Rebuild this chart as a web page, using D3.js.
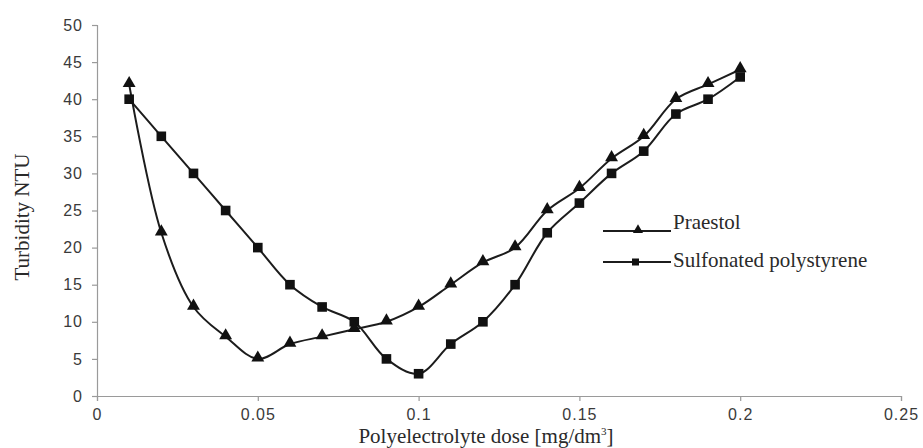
<!DOCTYPE html>
<html>
<head>
<meta charset="utf-8">
<script src="https://cdn.jsdelivr.net/npm/d3@7"></script>
<style>
  body { margin: 0; background: #fff; }
  #chart { width: 923px; height: 448px; }
</style>
</head>
<body>
<div id="chart"></div>
<script>
const doses = [0.01, 0.02, 0.03, 0.04, 0.05, 0.06, 0.07, 0.08, 0.09, 0.1,
  0.11, 0.12, 0.13, 0.14, 0.15, 0.16, 0.17, 0.18, 0.19, 0.2];
const praestol = [42, 22, 12, 8, 5, 7, 8, 9, 10, 12, 15, 18, 20, 25, 28, 32, 35, 40, 42, 44];
const sulfonated = [40, 35, 30, 25, 20, 15, 12, 10, 5, 3, 7, 10, 15, 22, 26, 30, 33, 38, 40, 43];
const xTicks = [0, 0.05, 0.1, 0.15, 0.2, 0.25];
const yTicks = [0, 5, 10, 15, 20, 25, 30, 35, 40, 45, 50];
const seriesNames = ["Praestol", "Sulfonated polystyrene"];

const width = 923, height = 448;
const margin = { top: 25, right: 22, bottom: 52, left: 97 };
const lineColor = "#1c1c1c";
const axisColor = "#9a9a9a";
const serif = "'Liberation Serif', 'Times New Roman', serif";

const svg = d3.select("#chart").append("svg")
  .attr("width", width)
  .attr("height", height);

const xScale = d3.scaleLinear()
  .domain([0, 0.25])
  .range([margin.left, width - margin.right]);

const yScale = d3.scaleLinear()
  .domain([0, 50])
  .range([height - margin.bottom, margin.top]);

// axes
const xAxis = d3.axisBottom(xScale)
  .tickValues(xTicks)
  .tickFormat((d) => String(d))
  .tickSize(5)
  .tickPadding(8);

const yAxis = d3.axisLeft(yScale)
  .tickValues(yTicks)
  .tickFormat((d) => String(d))
  .tickSize(5)
  .tickPadding(9);

const gx = svg.append("g")
  .attr("transform", "translate(0," + (height - margin.bottom) + ")")
  .call(xAxis);

const gy = svg.append("g")
  .attr("transform", "translate(" + margin.left + ",0)")
  .call(yAxis);

[gx, gy].forEach((g) => {
  g.select(".domain").attr("stroke", axisColor).attr("stroke-width", 1.2);
  g.selectAll(".tick line").attr("stroke", axisColor).attr("stroke-width", 1.2);
  g.selectAll(".tick text")
    .attr("fill", "#3a3a3a")
    .style("font-family", "'Liberation Sans', Arial, sans-serif")
    .style("font-size", "16px")
    .style("letter-spacing", "1px");
});

// axis titles
svg.append("text")
  .attr("transform", "rotate(-90)")
  .attr("x", -217)
  .attr("y", 29)
  .style("text-anchor", "middle")
  .style("font-family", serif)
  .style("font-size", "21px")
  .attr("fill", "#2a2a2a")
  .text("Turbidity NTU");

const xTitle = svg.append("text")
  .attr("x", 486)
  .attr("y", 443)
  .style("text-anchor", "middle")
  .style("font-family", serif)
  .style("font-size", "21px")
  .attr("fill", "#2a2a2a");
xTitle.append("tspan").text("Polyelectrolyte dose [mg/dm");
xTitle.append("tspan").attr("dy", -8).style("font-size", "11px").text("3");
xTitle.append("tspan").attr("dy", 8).text("]");

// lines
const line = d3.line()
  .x((d) => xScale(d[0]))
  .y((d) => yScale(d[1]))
  .curve(d3.curveCatmullRom.alpha(0.5));

const pData = doses.map((x, i) => [x, praestol[i]]);
const sData = doses.map((x, i) => [x, sulfonated[i]]);

[pData, sData].forEach((data) => {
  svg.append("path")
    .datum(data)
    .attr("fill", "none")
    .attr("stroke", lineColor)
    .attr("stroke-width", 2)
    .attr("d", line);
});

const triangle = d3.symbol().type(d3.symbolTriangle).size(72);

svg.selectAll(".sq")
  .data(sData)
  .enter()
  .append("rect")
  .attr("class", "sq")
  .attr("x", (d) => xScale(d[0]) - 4.8)
  .attr("y", (d) => yScale(d[1]) - 4.8)
  .attr("width", 9.6)
  .attr("height", 9.6)
  .attr("fill", "#111");

svg.selectAll(".tri")
  .data(pData)
  .enter()
  .append("path")
  .attr("class", "tri")
  .attr("transform", (d) => "translate(" + xScale(d[0]) + "," + (yScale(d[1]) - 1) + ")")
  .attr("d", triangle)
  .attr("fill", "#111");

// legend
const legend = svg.append("g");
const legendY = [231, 262];
const textY = [229, 267];

seriesNames.forEach((name, i) => {
  legend.append("line")
    .attr("x1", 603)
    .attr("x2", 671)
    .attr("y1", legendY[i])
    .attr("y2", legendY[i])
    .attr("stroke", lineColor)
    .attr("stroke-width", 2);
  if (i === 0) {
    legend.append("path")
      .attr("transform", "translate(638," + (legendY[i] - 1) + ")")
      .attr("d", d3.symbol().type(d3.symbolTriangle).size(44))
      .attr("fill", "#111");
  } else {
    legend.append("rect")
      .attr("x", 632)
      .attr("y", legendY[i] - 3.5)
      .attr("width", 7)
      .attr("height", 7)
      .attr("fill", "#111");
  }
  legend.append("text")
    .attr("x", 673)
    .attr("y", textY[i])
    .style("font-family", serif)
    .style("font-size", "21px")
    .attr("fill", "#2a2a2a")
    .text(name);
});
</script>
</body>
</html>
